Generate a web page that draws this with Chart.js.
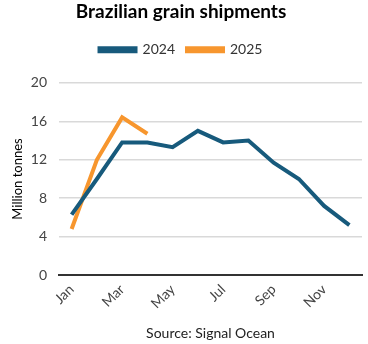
<!DOCTYPE html>
<html>
<head>
<meta charset="utf-8">
<script src="https://cdn.jsdelivr.net/npm/chart.js@4"></script>
<style>
  html, body { margin: 0; padding: 0; background: #fff; }
  #wrap { width: 368px; height: 344px; }
</style>
</head>
<body>
<div id="wrap"><canvas id="grainChart"></canvas></div>
<script>
const months = ['Jan', 'Feb', 'Mar', 'Apr', 'May', 'Jun', 'Jul', 'Aug', 'Sep', 'Oct', 'Nov', 'Dec'];
const shipments2024 = [6.3, 10.0, 13.8, 13.8, 13.3, 15.0, 13.8, 14.0, 11.7, 10.0, 7.2, 5.2];
const shipments2025 = [4.8, 12.0, 16.4, 14.7];
const yTicks = [0, 4, 8, 12, 16, 20];

const fontFamily = 'Lato, "Liberation Sans", sans-serif';

// extra room under the legend, before the plot starts
const legendGap = {
    id: 'legendGap',
    beforeInit(chart) {
        const legend = chart.legend;
        if (!legend) return;
        const origFit = legend.fit;
        legend.fit = function () {
            origFit.call(this);
            this.height += 16;
        };
    }
};

document.addEventListener('DOMContentLoaded', function () {
    const ctx = document.getElementById('grainChart').getContext('2d');
    new Chart(ctx, {
        type: 'line',
        data: {
            labels: months,
            datasets: [{
                label: '2024',
                data: shipments2024,
                borderColor: '#175a7c',
                backgroundColor: '#175a7c',
                borderWidth: 4,
                pointRadius: 0,
                tension: 0
            }, {
                label: '2025',
                data: shipments2025,
                borderColor: '#f7962e',
                backgroundColor: '#f7962e',
                borderWidth: 4,
                pointRadius: 0,
                tension: 0
            }]
        },
        options: {
            responsive: true,
            maintainAspectRatio: false,
            animation: false,
            layout: { padding: { left: 0, right: 6, top: 0, bottom: 0 } },
            plugins: {
                title: {
                    display: true,
                    text: 'Brazilian grain shipments',
                    color: '#000',
                    font: { family: fontFamily, size: 19, weight: 'bold' },
                    padding: { top: 0, bottom: 8 }
                },
                legend: {
                    display: true,
                    labels: {
                        color: '#333',
                        font: { family: fontFamily, size: 14 },
                        boxWidth: 36,
                        boxHeight: 3,
                        padding: 12
                    }
                },
                tooltip: { enabled: false }
            },
            scales: {
                x: {
                    offset: true,
                    grid: { display: false, drawTicks: false },
                    border: { display: true, color: '#333', width: 2 },
                    afterFit: function (scale) {
                        // rotated Jan label must not push the plot to the right
                        scale.paddingLeft = 0;
                        scale.paddingRight = 0;
                    },
                    ticks: {
                        autoSkip: false,
                        maxRotation: 45,
                        minRotation: 45,
                        color: '#444',
                        padding: 6,
                        font: { family: fontFamily, size: 14 },
                        callback: function (value, index) {
                            return index % 2 === 0 ? months[index] : '';
                        }
                    },
                    title: {
                        display: true,
                        text: 'Source: Signal Ocean',
                        color: '#222',
                        font: { family: fontFamily, size: 14, lineHeight: 1 },
                        padding: { top: 8 }
                    }
                },
                y: {
                    min: yTicks[0],
                    max: yTicks[yTicks.length - 1],
                    afterBuildTicks: function (axis) {
                        axis.ticks = yTicks.map(v => ({ value: v }));
                    },
                    afterFit: function (scale) {
                        scale.width = 59;
                    },
                    grid: { color: '#d9d9d9', lineWidth: 1.5, drawTicks: false },
                    border: { display: false },
                    ticks: {
                        color: '#444',
                        padding: 12,
                        font: { family: fontFamily, size: 14 }
                    },
                    title: {
                        display: true,
                        text: 'Million tonnes',
                        color: '#000',
                        font: { family: fontFamily, size: 13 },
                        padding: { top: 10, bottom: 4 }
                    }
                }
            }
        },
        plugins: [legendGap]
    });
});
</script>
</body>
</html>
